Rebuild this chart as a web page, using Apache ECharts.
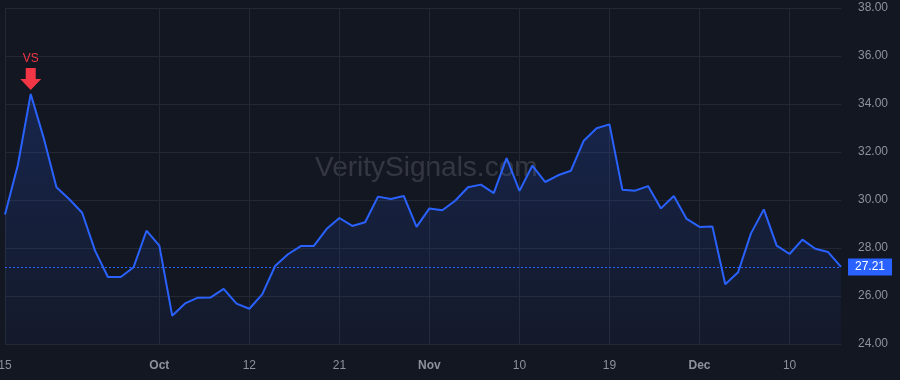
<!DOCTYPE html>
<html>
<head>
<meta charset="utf-8">
<script src="https://cdn.jsdelivr.net/npm/echarts@6/dist/echarts.min.js"></script>
<style>
  html, body { margin: 0; padding: 0; background: #131722; }
  #chart { width: 900px; height: 380px; }
</style>
</head>
<body>
<div id="chart"></div>
<script>
  // trading days, Sep 15 - Dec 16
  const dates = [
    "09-15", "09-16", "09-17", "09-20", "09-21", "09-22", "09-23", "09-24", "09-27", "09-28", "09-29", "09-30",
    "10-01", "10-04", "10-05", "10-06", "10-07", "10-08", "10-11", "10-12", "10-13", "10-14", "10-15",
    "10-18", "10-19", "10-20", "10-21", "10-22", "10-25", "10-26", "10-27", "10-28", "10-29",
    "11-01", "11-02", "11-03", "11-04", "11-05", "11-08", "11-09", "11-10", "11-11", "11-12",
    "11-15", "11-16", "11-17", "11-18", "11-19", "11-22", "11-23", "11-24", "11-26", "11-29", "11-30",
    "12-01", "12-02", "12-03", "12-06", "12-07", "12-08", "12-09", "12-10", "12-13", "12-14", "12-15", "12-16",
  ]
  const prices = [
    29.40, 31.46, 34.42, 32.60, 30.53, 30.03, 29.47, 27.89, 26.79, 26.79, 27.20, 28.72,
    28.10, 25.18, 25.69, 25.93, 25.94, 26.30, 25.68, 25.47, 26.07, 27.25, 27.74,
    28.08, 28.08, 28.79, 29.25, 28.92, 29.07, 30.14, 30.04, 30.17, 28.88,
    29.65, 29.57, 29.97, 30.53, 30.64, 30.29, 31.75, 30.38, 31.43, 30.75,
    31.03, 31.22, 32.47, 32.99, 33.15, 30.43, 30.39, 30.58, 29.65, 30.17, 29.21,
    28.88, 28.90, 26.49, 26.99, 28.61, 29.61, 28.10, 27.75, 28.35, 27.97, 27.83, 27.21,
  ]
  const tickDates = ["09-15", "10-01", "10-12", "10-21", "11-01", "11-10", "11-19", "12-01", "12-10"]
  const tickLabels = ["15", "Oct", "12", "21", "Nov", "10", "19", "Dec", "10"]
  const monthLabels = ["Oct", "Nov", "Dec"]
  const lastPrice = 27.21
  const signalDate = "09-17"
  const signalText = "VS"

  const font = "'Liberation Sans', Arial, sans-serif"
  const isTick = (idx) => tickDates.includes(dates[idx])

  const chart = echarts.init(document.getElementById("chart"))
  const option = {
    backgroundColor: "#131722",
    animation: false,
    grid: { top: 8, bottom: 36, left: 5, right: 59, outerBoundsMode: "none", containLabel: false },
    graphic: [
      {
        type: "text",
        left: 315,
        top: 154,
        z: 0,
        style: {
          text: "VeritySignals.com",
          fill: "rgba(255,255,255,0.14)",
          font: "28px " + font,
        },
      },
    ],
    xAxis: {
      type: "category",
      data: dates,
      boundaryGap: false,
      axisLine: { show: false },
      axisTick: { show: false },
      axisLabel: {
        interval: (idx) => isTick(idx),
        margin: 16,
        color: "#8d919b",
        fontSize: 12,
        fontFamily: font,
        formatter: (val) => {
          const t = tickLabels[tickDates.indexOf(val)]
          return monthLabels.includes(t) ? "{b|" + t + "}" : t
        },
        rich: {
          b: { fontWeight: "bold", color: "#8d919b", fontSize: 12, fontFamily: font },
        },
      },
      splitLine: {
        show: true,
        interval: (idx) => isTick(idx),
        lineStyle: { color: "#242833", width: 1 },
      },
    },
    yAxis: {
      type: "value",
      position: "right",
      min: 24,
      max: 38,
      interval: 2,
      axisLine: { show: false },
      axisTick: { show: false },
      axisLabel: {
        margin: 17,
        color: "#8d919b",
        fontSize: 12,
        fontFamily: font,
        formatter: (v) => v.toFixed(2),
      },
      splitLine: { lineStyle: { color: "#242833", width: 1 } },
    },
    series: [
      {
        type: "line",
        data: prices,
        symbol: "none",
        lineStyle: { color: "#2962ff", width: 2 },
        areaStyle: {
          color: new echarts.graphic.LinearGradient(0, 0, 0, 1, [
            { offset: 0, color: "rgba(41,98,255,0.28)" },
            { offset: 1, color: "rgba(41,98,255,0.05)" },
          ]),
          origin: "start",
        },
        markLine: {
          silent: true,
          symbol: "none",
          lineStyle: { color: "#2962ff", type: [2, 2], width: 1, opacity: 1 },
          label: {
            show: true,
            position: "end",
            distance: 7,
            formatter: lastPrice.toFixed(2),
            color: "#ffffff",
            backgroundColor: "#2962ff",
            padding: [3, 7, 2, 7],
            fontSize: 12,
            fontFamily: font,
          },
          data: [{ yAxis: lastPrice }],
        },
        markPoint: {
          silent: true,
          symbol: "path://M5.5 0 L15.5 0 L15.5 11 L21 11 L10.5 22 L0 11 L5.5 11 Z",
          symbolSize: [21, 22],
          symbolOffset: [0, -15],
          itemStyle: { color: "#f23645" },
          label: {
            show: true,
            position: "top",
            distance: 3,
            formatter: signalText,
            color: "#f23645",
            fontSize: 12,
            fontFamily: font,
          },
          data: [{ coord: [signalDate, prices[dates.indexOf(signalDate)]] }],
        },
      },
    ],
  }
  chart.setOption(option)
</script>
</body>
</html>
